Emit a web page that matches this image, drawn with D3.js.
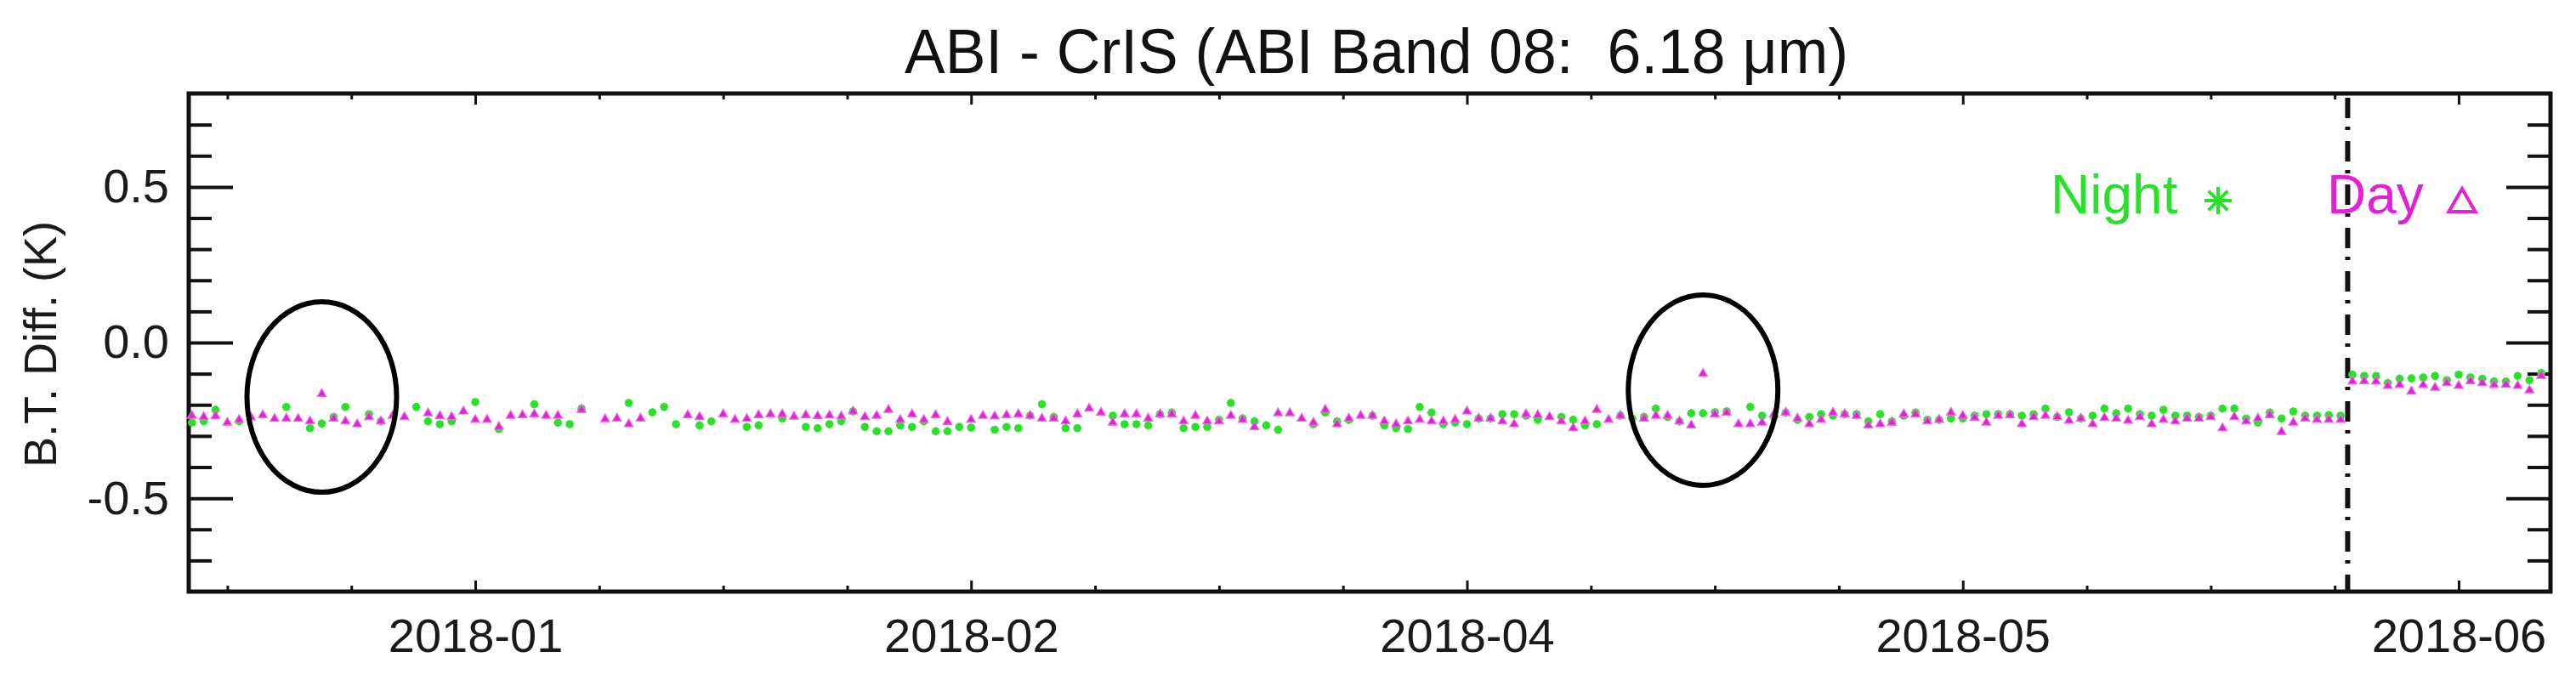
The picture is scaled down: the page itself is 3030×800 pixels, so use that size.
<!DOCTYPE html>
<html>
<head>
<meta charset="utf-8">
<script src="https://cdn.jsdelivr.net/npm/d3@7"></script>
<style>
  body { margin: 0; background: #ffffff; }
  text { font-family: "Liberation Sans", Arial, Helvetica, sans-serif; }
</style>
</head>
<body>
<svg id="chart"></svg>
<script>
// chart text
const titleText = "ABI - CrIS (ABI Band 08:  6.18 \u03bcm)";
const yTitleText = "B.T. Diff. (K)";
const legendLabels = ["Night", "Day"];

// x axis is days since 2017-12-17, ticks labelled the IDL way
const xTickDays = [24, 66, 108, 150, 192];
const xTickLabels = ["2018-01", "2018-02", "2018-04", "2018-05", "2018-06"];
const xMinorStep = 10.5;
const yTickValues = [-0.5, 0, 0.5];
const yTickLabels = ["-0.5", "0.0", "0.5"];

// day where the processing changed (dash-dot line)
const switchDay = 182.6;
// the two circled outliers (day index, value)
const circled = [
    { day: 11, value: -0.175 },
    { day: 128, value: -0.153 }
];

// B.T. difference (K), one value per day, null = missing
const dayVals = [
    -0.235, -0.239, -0.236, -0.257, -0.248, -0.240, -0.233, -0.245, -0.244, -0.245,
    -0.253, -0.165, -0.244, -0.253, -0.262, -0.239, -0.253, -0.235, -0.239, null,
    -0.227, -0.236, -0.239, -0.221, -0.248, -0.248, -0.271, -0.235, -0.233, -0.230,
    -0.235, -0.235, null, -0.216, null, -0.246, -0.244, -0.262, -0.244, null,
    null, null, -0.233, -0.239, null, -0.230, -0.248, -0.245, -0.233, -0.230,
    -0.230, -0.238, -0.233, -0.236, -0.234, -0.237, -0.221, -0.239, -0.235, -0.216,
    -0.248, -0.230, -0.248, -0.233, -0.255, null, -0.248, -0.235, -0.237, -0.233,
    -0.230, -0.235, -0.244, -0.244, -0.253, -0.230, -0.212, -0.225, -0.257, -0.230,
    -0.230, -0.244, -0.230, -0.230, -0.253, -0.235, -0.253, -0.253, -0.235, -0.248,
    -0.271, null, -0.227, -0.227, -0.244, -0.257, -0.216, -0.262, -0.244, -0.235,
    -0.235, -0.253, -0.262, -0.253, -0.248, -0.253, -0.253, -0.248, -0.221, -0.244,
    -0.244, -0.253, -0.262, -0.230, -0.233, -0.239, -0.253, -0.275, -0.253, -0.216,
    -0.248, -0.235, null, -0.244, -0.235, -0.235, -0.253, -0.266, -0.100, -0.230,
    -0.225, -0.262, -0.262, -0.257, -0.230, -0.225, -0.244, -0.262, -0.248, -0.225,
    -0.230, -0.235, -0.266, -0.262, -0.257, -0.230, -0.230, -0.253, -0.248, -0.225,
    -0.235, -0.241, -0.257, -0.235, -0.233, -0.262, -0.239, -0.235, -0.239, -0.251,
    -0.244, -0.262, -0.242, -0.244, -0.251, -0.239, -0.262, -0.248, -0.253, -0.244,
    -0.244, -0.239, -0.275, -0.239, -0.253, -0.244, -0.233, -0.287, -0.257, -0.244,
    -0.248, -0.248, -0.248, -0.125, -0.124, -0.125, -0.139, -0.136, -0.157, -0.136,
    -0.145, -0.130, -0.139, -0.124, -0.130, -0.136, -0.135, -0.139, -0.153, -0.107
];
const nightVals = [
    -0.257, -0.253, -0.216, null, -0.253, null, null, null, -0.207, null,
    -0.275, -0.260, -0.239, -0.207, null, -0.230, -0.253, null, null, -0.207,
    -0.253, -0.262, -0.253, null, -0.191, null, -0.278, null, null, -0.198,
    null, -0.257, -0.262, -0.212, null, null, null, -0.194, null, -0.224,
    -0.207, -0.262, null, -0.266, -0.253, null, null, -0.271, -0.266, null,
    -0.244, null, -0.271, -0.275, -0.262, -0.253, -0.221, -0.271, -0.285, -0.285,
    -0.266, -0.271, -0.253, -0.285, -0.285, -0.271, -0.273, null, -0.280, -0.271,
    -0.275, -0.235, -0.198, -0.239, -0.275, -0.275, null, null, -0.235, -0.262,
    -0.262, -0.266, -0.230, -0.225, -0.275, -0.271, -0.271, -0.248, -0.194, -0.244,
    -0.253, -0.266, -0.280, null, null, -0.262, -0.225, -0.253, -0.248, null,
    -0.235, -0.266, -0.275, -0.278, -0.207, -0.225, -0.262, -0.257, -0.262, -0.244,
    -0.244, -0.230, -0.230, -0.235, -0.248, null, -0.239, -0.248, -0.266, -0.262,
    null, -0.235, -0.244, -0.239, -0.212, -0.239, -0.253, -0.227, -0.227, -0.224,
    -0.221, null, -0.207, -0.235, -0.239, -0.225, -0.248, -0.239, -0.230, -0.235,
    -0.230, -0.230, -0.253, -0.230, -0.253, -0.235, -0.225, -0.248, -0.248, -0.244,
    -0.244, -0.235, -0.230, -0.230, -0.230, -0.235, -0.230, -0.212, -0.239, -0.224,
    -0.244, -0.235, -0.212, -0.227, -0.212, -0.230, -0.235, -0.216, -0.235, -0.235,
    -0.239, -0.235, -0.212, -0.212, -0.244, -0.257, -0.225, -0.244, -0.221, -0.235,
    -0.235, -0.233, -0.235, -0.103, -0.107, -0.107, -0.130, -0.116, -0.115, -0.112,
    -0.107, -0.121, -0.103, -0.112, -0.116, -0.125, -0.125, -0.107, -0.121, -0.098
];

const nightColor = "#2be02b";
const dayColor = "#e022d2";

function getConfig(){
    let width = 3030;
    let height = 800;
    let margin = { top: 110, bottom: 104, left: 222, right: 30 };
    let bodyWidth = width - margin.left - margin.right;
    let bodyHeight = height - margin.top - margin.bottom;
    let container = d3.select("#chart")
        .attr("width", width)
        .attr("height", height);
    return { width, height, margin, bodyWidth, bodyHeight, container };
}

function getScales(config){
    let { margin, bodyWidth, bodyHeight } = config;
    let xScale = d3.scaleLinear()
        .domain([-0.27, 199.78])
        .range([margin.left, margin.left + bodyWidth]);
    let yScale = d3.scaleLinear()
        .domain([-0.8, 0.8])
        .range([margin.top + bodyHeight, margin.top]);
    return { xScale, yScale };
}

function asterisk(r){
    let a = r * 0.7071;
    return `M${-r},0L${r},0M0,${-r}L0,${r}M${-a},${-a}L${a},${a}M${-a},${a}L${a},${-a}`;
}

function drawPoints(scales, config){
    let { container } = config;
    let { xScale, yScale } = scales;

    let night = nightVals.map((v, i) => ({ day: i, value: v })).filter(d => d.value !== null);
    let day = dayVals.map((v, i) => ({ day: i, value: v })).filter(d => d.value !== null);

    container.append("g")
        .selectAll("path")
        .data(night)
        .enter().append("path")
        .attr("transform", d => `translate(${xScale(d.day)},${yScale(d.value)})`)
        .attr("d", asterisk(4.8))
        .attr("stroke", nightColor)
        .attr("stroke-width", 3)
        .attr("fill", "none");

    let tri = d3.symbol().type(d3.symbolTriangle).size(48);
    container.append("g")
        .selectAll("path")
        .data(day)
        .enter().append("path")
        .attr("transform", d => `translate(${xScale(d.day)},${yScale(d.value)})`)
        .attr("d", tri)
        .attr("fill", dayColor)
        .attr("stroke", "#ec6ae2")
        .attr("stroke-width", 1.2);
}

function drawAxes(scales, config){
    let { container, margin, bodyWidth, bodyHeight } = config;
    let { xScale, yScale } = scales;
    let bottom = margin.top + bodyHeight;
    let right = margin.left + bodyWidth;

    let xMinor = d3.range(3, 200, xMinorStep).filter(d => !xTickDays.includes(d));
    let yMinor = d3.range(-7, 8).map(k => k / 10).filter(v => !yTickValues.includes(v));

    let axes = [
        { g: d3.axisLeft(yScale).tickValues(yTickValues).tickSize(-52).tickPadding(23)
                .tickFormat((d, i) => yTickLabels[i]), at: `translate(${margin.left},0)`, w: 4 },
        { g: d3.axisLeft(yScale).tickValues(yMinor).tickSize(-27).tickFormat(""),
            at: `translate(${margin.left},0)`, w: 4 },
        { g: d3.axisRight(yScale).tickValues(yTickValues).tickSize(-52).tickFormat(""),
            at: `translate(${right},0)`, w: 4 },
        { g: d3.axisRight(yScale).tickValues(yMinor).tickSize(-27).tickFormat(""),
            at: `translate(${right},0)`, w: 4 },
        { g: d3.axisBottom(xScale).tickValues(xTickDays).tickSize(-13).tickPadding(31)
                .tickFormat((d, i) => xTickLabels[i]), at: `translate(0,${bottom})`, w: 3 },
        { g: d3.axisBottom(xScale).tickValues(xMinor).tickSize(-7).tickFormat(""),
            at: `translate(0,${bottom})`, w: 3 },
        { g: d3.axisTop(xScale).tickValues(xTickDays).tickSize(-13).tickFormat(""),
            at: `translate(0,${margin.top})`, w: 3 },
        { g: d3.axisTop(xScale).tickValues(xMinor).tickSize(-7).tickFormat(""),
            at: `translate(0,${margin.top})`, w: 3 }
    ];

    axes.forEach(a => {
        let g = container.append("g")
            .attr("transform", a.at)
            .call(a.g);
        g.select(".domain").remove();
        g.selectAll(".tick line")
            .attr("stroke", "#111")
            .attr("stroke-width", a.w);
        g.selectAll(".tick text")
            .attr("fill", "#1a1a1a")
            .style("font-size", "56px")
            .style("font-family", '"Liberation Sans", Arial, Helvetica, sans-serif');
    });

    // box around the plot
    container.append("rect")
        .attr("x", margin.left)
        .attr("y", margin.top)
        .attr("width", bodyWidth)
        .attr("height", bodyHeight)
        .attr("fill", "none")
        .attr("stroke", "#111")
        .attr("stroke-width", 5);

    // dash-dot line at the change
    container.append("line")
        .attr("x1", xScale(switchDay))
        .attr("x2", xScale(switchDay))
        .attr("y1", margin.top)
        .attr("y2", bottom)
        .attr("stroke", "#111")
        .attr("stroke-width", 6)
        .attr("stroke-dasharray", "24,10,4,13")
        .attr("stroke-dashoffset", 46);
}

function drawCircles(scales, config){
    let { container } = config;
    let { xScale, yScale } = scales;
    container.append("g")
        .selectAll("ellipse")
        .data(circled)
        .enter().append("ellipse")
        .attr("cx", d => xScale(d.day))
        .attr("cy", d => yScale(d.value))
        .attr("rx", 88)
        .attr("ry", 112)
        .attr("fill", "none")
        .attr("stroke", "#000")
        .attr("stroke-width", 6);
}

function drawText(config){
    let { container } = config;
    container.append("text")
        .attr("x", 1619)
        .attr("y", 86)
        .attr("text-anchor", "middle")
        .attr("textLength", 1110)
        .attr("lengthAdjust", "spacingAndGlyphs")
        .style("white-space", "pre")
        .style("font-size", "75px")
        .attr("fill", "#111")
        .text(titleText);

    container.append("text")
        .attr("transform", "translate(66,405) rotate(-90)")
        .attr("text-anchor", "middle")
        .style("font-size", "54px")
        .attr("fill", "#1a1a1a")
        .text(yTitleText);

    // legend
    container.append("text")
        .attr("x", 2412)
        .attr("y", 251)
        .style("font-size", "64px")
        .attr("fill", nightColor)
        .text(legendLabels[0]);
    container.append("path")
        .attr("transform", "translate(2609,236)")
        .attr("d", asterisk(16))
        .attr("stroke", nightColor)
        .attr("stroke-width", 4)
        .attr("fill", "none");
    container.append("text")
        .attr("x", 2737)
        .attr("y", 251)
        .style("font-size", "64px")
        .attr("fill", dayColor)
        .text(legendLabels[1]);
    container.append("path")
        .attr("transform", "translate(2896,240)")
        .attr("d", d3.symbol().type(d3.symbolTriangle).size(420))
        .attr("stroke", dayColor)
        .attr("stroke-width", 4)
        .attr("fill", "none");
}

function displayData(){
    let config = getConfig();
    let scales = getScales(config);
    drawAxes(scales, config);
    drawPoints(scales, config);
    drawCircles(scales, config);
    drawText(config);
}

displayData();
</script>
</body>
</html>
